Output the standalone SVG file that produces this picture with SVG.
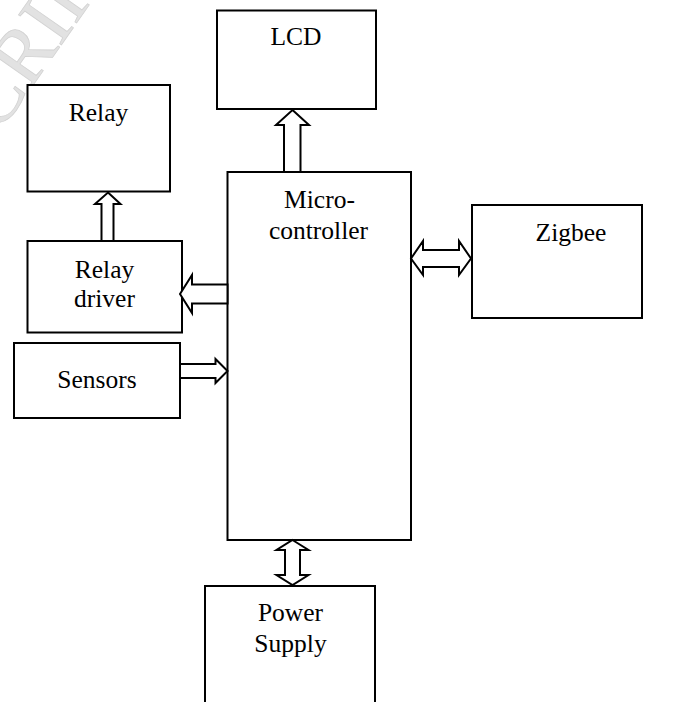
<svg xmlns="http://www.w3.org/2000/svg" width="678" height="702" viewBox="0 0 678 702">
<style>
.box{fill:#fff;stroke:#000;stroke-width:2}
.arr{fill:#fff;stroke:#000;stroke-width:2;stroke-linejoin:miter}
.lbl{font-family:"Liberation Serif","Times New Roman",serif;font-size:25.5px;fill:#000;text-anchor:middle}
.wm{font-family:"Liberation Serif","Times New Roman",serif;font-size:80px;fill:#e2e2e2;stroke:#d2d2d2;stroke-width:0.8}
</style>
<rect width="678" height="702" fill="#fff"/>
<text class="wm" transform="translate(-27,171) rotate(-55)">SCRIPT</text>
<g id="lcd"><rect class="box" x="217" y="10.5" width="159" height="98.5"/><text class="lbl" x="296" y="45">LCD</text></g>
<g id="relay"><rect class="box" x="27.5" y="85" width="142.5" height="106.5"/><text class="lbl" x="98.5" y="121">Relay</text></g>
<g id="relay-driver"><rect class="box" x="27.5" y="241" width="154.5" height="91.5"/><text class="lbl" x="104.5" y="277.5">Relay</text><text class="lbl" x="104.5" y="306.5">driver</text></g>
<g id="sensors"><rect class="box" x="14" y="343" width="166" height="75"/><text class="lbl" x="97" y="388">Sensors</text></g>
<g id="microcontroller"><rect class="box" x="227.5" y="172" width="183.5" height="368"/><text class="lbl" x="319.5" y="207.5">Micro-</text><text class="lbl" x="318.5" y="238.5">controller</text></g>
<g id="zigbee"><rect class="box" x="472" y="205" width="170" height="113"/><text class="lbl" x="571" y="241">Zigbee</text></g>
<g id="power-supply"><rect class="box" x="205" y="586" width="170" height="130"/><text class="lbl" x="290.5" y="620.5">Power</text><text class="lbl" x="290.5" y="651.5">Supply</text></g>
<g id="connectors">
<polygon class="arr" points="292.5,110 309,125 300.5,125 300.5,172 284,172 284,125 276,125"/>
<polygon class="arr" points="108,192.5 120.5,204 113.5,204 113.5,241 101.5,241 101.5,204 95,204"/>
<polygon class="arr" points="180,294 192,275 192,284.5 227.5,284.5 227.5,303.5 192,303.5 192,313"/>
<polygon class="arr" points="411,258.5 423,241 423,250 459,250 459,241 471,258.5 459,275 459,267 423,267 423,275"/>
<polygon class="arr" points="227.5,371 215.5,359 215.5,364 180,364 180,378 215.5,378 215.5,383"/>
<polygon class="arr" points="292.5,540 308.5,550 300,550 300,575 308.5,575 292.5,585 276.5,575 285,575 285,550 276.5,550"/>
</g>
</svg>
